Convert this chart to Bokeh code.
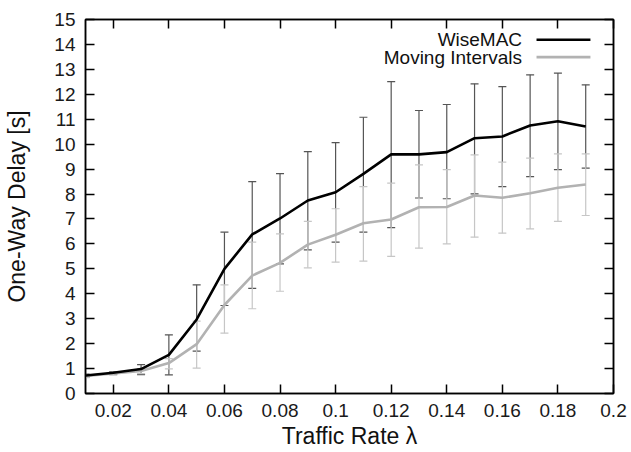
from bokeh.plotting import figure
from bokeh.models import (ColumnDataSource, Whisker, TeeHead, LinearAxis,
                          FixedTicker, Range1d, Label, Arrow)
from bokeh.embed import file_html
from bokeh.resources import INLINE

# ---------------- data ----------------
x_rate = [0.01, 0.02, 0.03, 0.04, 0.05, 0.06, 0.07, 0.08, 0.09, 0.10,
          0.11, 0.12, 0.13, 0.14, 0.15, 0.16, 0.17, 0.18, 0.19]

wisemac = [0.72, 0.83, 0.98, 1.55, 2.97, 5.00, 6.38, 7.02, 7.74, 8.07,
           8.81, 9.59, 9.59, 9.68, 10.24, 10.31, 10.75, 10.92, 10.71]
wisemac_lo = [0.66, 0.78, 0.76, 0.75, 1.70, 3.53, 4.22, 5.20, 5.76, 6.07,
              6.47, 6.65, 7.84, 7.81, 8.01, 8.30, 8.70, 8.98, 9.04]
wisemac_hi = [0.78, 0.88, 1.16, 2.35, 4.36, 6.47, 8.50, 8.82, 9.70, 10.06,
              11.08, 12.51, 11.35, 11.59, 12.42, 12.31, 12.78, 12.85, 12.38]

moving = [0.70, 0.80, 0.90, 1.22, 1.98, 3.55, 4.73, 5.24, 5.97, 6.37,
          6.83, 6.98, 7.47, 7.48, 7.94, 7.85, 8.03, 8.25, 8.38]
moving_lo = [0.64, 0.74, 0.80, 0.99, 1.02, 2.42, 3.40, 4.10, 5.04, 5.27,
             5.31, 5.50, 5.83, 6.00, 6.27, 6.43, 6.60, 6.90, 7.14]
moving_hi = [0.76, 0.86, 1.00, 1.40, 2.90, 4.36, 6.07, 6.40, 6.90, 7.41,
             8.30, 8.44, 9.17, 8.98, 9.57, 9.28, 9.44, 9.61, 9.61]

series_names = ["WiseMAC", "Moving Intervals"]

x_ticks = [0.02, 0.04, 0.06, 0.08, 0.1, 0.12, 0.14, 0.16, 0.18, 0.2]
x_tick_labels = ["0.02", "0.04", "0.06", "0.08", "0.1", "0.12", "0.14",
                 "0.16", "0.18", "0.2"]
y_ticks = list(range(0, 16))

# ---------------- styling ----------------
FONT = "Liberation Sans"
DARK = "#000000"
DARK_ERR = "#555555"
LIGHT = "#b2b2b2"
LIGHT_ERR = "#c6c6c6"

p = figure(width=631, height=452, x_range=Range1d(0.01, 0.2),
           y_range=Range1d(0, 15), output_backend="svg",
           toolbar_location=None, min_border_left=85, min_border_right=18,
           min_border_top=19, min_border_bottom=59)
p.xgrid.visible = False
p.ygrid.visible = False
p.background_fill_color = "white"
p.border_fill_color = "white"
p.outline_line_color = "black"
p.outline_line_width = 1.5


def style_axis(ax, show_labels=True):
    ax.major_tick_in = 9
    ax.major_tick_out = 0
    ax.minor_tick_in = 0
    ax.minor_tick_out = 0
    ax.axis_line_color = "black"
    ax.axis_line_width = 1.5
    ax.major_tick_line_color = "black"
    ax.major_tick_line_width = 1.5
    ax.major_label_text_font = FONT
    if show_labels:
        ax.major_label_text_font_size = "19px"
        ax.major_label_text_color = "#1a1a1a"
    else:
        # mirror axis: ticks only, labels not drawn
        ax.major_label_text_font_size = "1px"
        ax.major_label_text_color = None
        ax.major_label_standoff = 0


xax = p.xaxis[0]
xax.ticker = FixedTicker(ticks=x_ticks)
xax.major_label_overrides = dict(zip(x_ticks, x_tick_labels))
style_axis(xax)
xax.major_label_standoff = 10
xax.axis_label = "Traffic Rate λ"
xax.axis_label_text_font = FONT
xax.axis_label_text_font_size = "23px"
xax.axis_label_text_font_style = "normal"
xax.axis_label_text_color = "#111111"
xax.axis_label_standoff = 3

yax = p.yaxis[0]
yax.ticker = FixedTicker(ticks=y_ticks)
style_axis(yax)
yax.major_label_standoff = 10
yax.axis_label = "One-Way Delay [s]"
yax.axis_label_text_font = FONT
yax.axis_label_text_font_size = "23px"
yax.axis_label_text_font_style = "normal"
yax.axis_label_text_color = "#111111"
yax.axis_label_standoff = 21

top_ax = LinearAxis(ticker=FixedTicker(ticks=x_ticks))
style_axis(top_ax, show_labels=False)
p.add_layout(top_ax, "above")
right_ax = LinearAxis(ticker=FixedTicker(ticks=y_ticks))
style_axis(right_ax, show_labels=False)
p.add_layout(right_ax, "right")

# ---------------- error bars ----------------
src_w = ColumnDataSource(dict(x=x_rate, y=wisemac, lo=wisemac_lo, hi=wisemac_hi))
src_m = ColumnDataSource(dict(x=x_rate, y=moving, lo=moving_lo, hi=moving_hi))

for src, col in ((src_w, DARK_ERR), (src_m, LIGHT_ERR)):
    w = Whisker(base="x", lower="lo", upper="hi", source=src,
                line_color=col, line_width=1.2,
                lower_head=TeeHead(size=8, line_color=col, line_width=1.2),
                upper_head=TeeHead(size=8, line_color=col, line_width=1.2))
    p.add_layout(w)

# ---------------- lines ----------------
p.line("x", "y", source=src_m, line_color=LIGHT, line_width=2.6)
p.line("x", "y", source=src_w, line_color=DARK, line_width=2.6)

# ---------------- legend (text left of sample line) ----------------
legend_rows = [(series_names[0], DARK, 14.19), (series_names[1], LIGHT, 13.49)]
for name, col, ly in legend_rows:
    p.add_layout(Label(x=0.1671, y=ly, text=name, text_align="right",
                       text_baseline="middle", text_font=FONT,
                       text_font_size="19px", text_color="#111111"))
    p.add_layout(Arrow(x_start=0.1723, y_start=ly, x_end=0.1917, y_end=ly,
                       start=None, end=None, line_color=col, line_width=2.6))

open("out.html", "w").write(file_html(p, INLINE))
